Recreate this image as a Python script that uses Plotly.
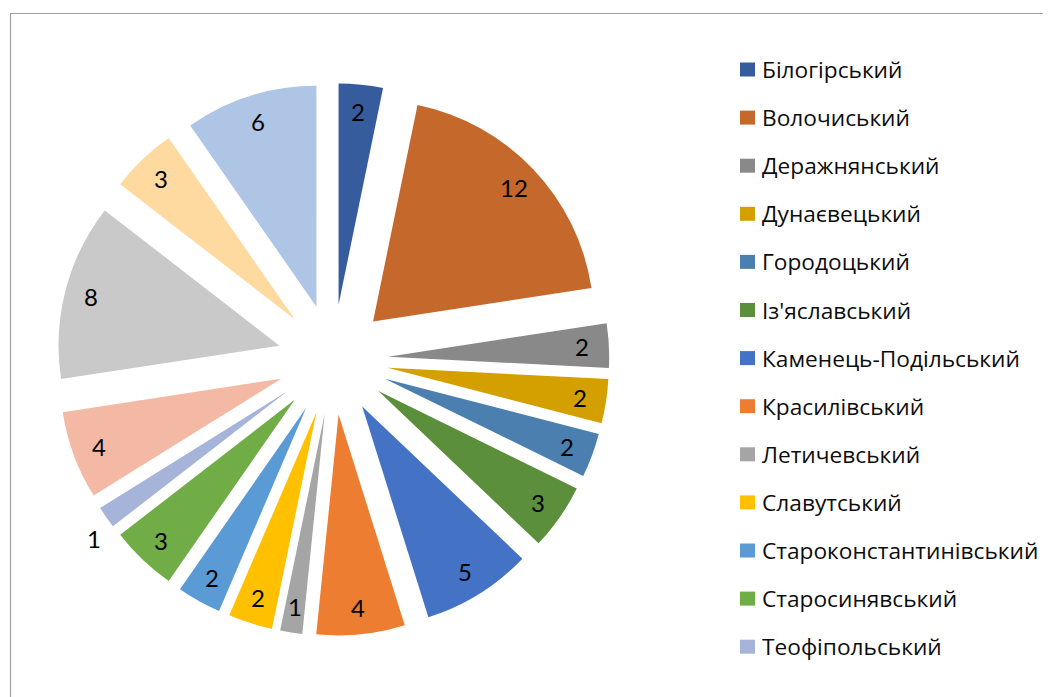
import math
import plotly.graph_objects as go

districts = ["Білогірський", "Волочиський", "Деражнянський", "Дунаєвецький",
             "Городоцький", "Із'яславський", "Каменець-Подільський", "Красилівський",
             "Летичевський", "Славутський", "Староконстантинівський", "Старосинявський",
             "Теофіпольський", "Хмельницький", "Чемеровецький", "Шепетівський",
             "Ярмолинецький"]
counts = [2, 12, 2, 2, 2, 3, 5, 4, 1, 2, 2, 3, 1, 4, 8, 3, 6]
colors = ["#365C9E", "#C5682B", "#898989", "#D4A000", "#4A7FB0", "#5B8F3B",
          "#4472C4", "#ED7D31", "#A5A5A5", "#FFC000", "#5B9BD5", "#70AD47",
          "#A6B4DA", "#F4B9A5", "#C9C9C9", "#FED9A0", "#AEC5E6"]
outside_labels = ["Теофіпольський"]
legend_shown = 13  # the legend box only shows the first 13 entries

W, H = 1051, 697
OFF = 8  # page offset of the plot div (body margin)
NUM_FONT = "Lato, 'Open Sans', sans-serif"
LEG_FONT = "'Open Sans', Lato, sans-serif"


def fx(px):
    return (px - OFF) / W


def fy(py):
    return 1 - (py - OFF) / H


# pie geometry (page pixels)
pie_cx, pie_cy, pie_half = 333, 359.5, 276.25
pull = 0.25
r = pie_half / (1 + pull)

fig = go.Figure(go.Pie(
    labels=districts,
    values=counts,
    sort=False,
    direction="clockwise",
    rotation=0,
    pull=pull,
    marker=dict(colors=colors, line=dict(width=0)),
    textinfo="none",
    domain=dict(x=[fx(pie_cx - pie_half), fx(pie_cx + pie_half)],
                y=[fy(pie_cy + pie_half), fy(pie_cy - pie_half)]),
    hoverinfo="skip",
    showlegend=False,
))

annotations = []
# data labels placed along each slice's bisector (Excel "best fit" look)
total = sum(counts)
cum = 0
for name, v in zip(districts, counts):
    frac_mid = (cum + v / 2) / total
    cum += v
    if name in outside_labels:
        k, tilt = 1.1, 2.0
    else:
        k, tilt = 0.88, 0.0
    mid = math.radians(frac_mid * 360 - tilt)
    d = pull * r + k * r
    lx = pie_cx + d * math.sin(mid)
    ly = pie_cy - d * math.cos(mid)
    annotations.append(dict(xref="paper", yref="paper", x=fx(lx), y=fy(ly),
                            xanchor="center", yanchor="middle", showarrow=False,
                            text=str(v),
                            font=dict(family=NUM_FONT, size=24, color="#000000")))

shapes = [dict(type="rect", xref="paper", yref="paper",
               x0=fx(10.5), x1=1.02, y0=-0.02, y1=fy(13.5),
               line=dict(color="#A0A0A0", width=1.2), fillcolor="rgba(0,0,0,0)",
               layer="below")]
y_first, step = 69.5, 48.1
for i in range(legend_shown):
    yc = y_first + i * step
    shapes.append(dict(type="rect", xref="paper", yref="paper",
                       x0=fx(740), x1=fx(755),
                       y0=fy(yc + 7), y1=fy(yc - 7),
                       fillcolor=colors[i], line=dict(width=0)))
    annotations.append(dict(xref="paper", yref="paper", x=fx(760), y=fy(yc),
                            xanchor="left", yanchor="middle", showarrow=False,
                            text=districts[i],
                            font=dict(family=LEG_FONT, size=22.7, color="#0D0D0D")))

fig.update_layout(
    width=W, height=H,
    margin=dict(l=0, r=0, t=0, b=0, pad=0, autoexpand=False),
    paper_bgcolor="white", plot_bgcolor="white",
    shapes=shapes, annotations=annotations,
    showlegend=False,
)

fig.write_html("out.html")
